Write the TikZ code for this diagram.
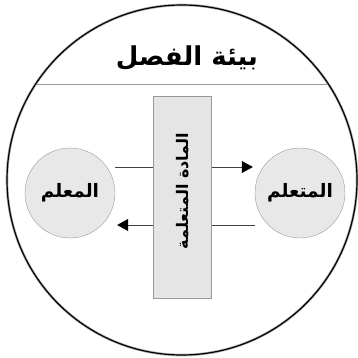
\documentclass[tikz,border=0pt]{standalone}
\usepackage{fontspec}
\usepackage{xcolor}
\usetikzlibrary{arrows.meta,positioning,calc}
\TeXXeTstate=1
\newfontfamily\arabicfont[Script=Arabic]{DejaVu Sans}
\newcommand{\ar}[1]{{\arabicfont\bfseries\beginR #1\endR}}

\begin{document}
\begin{tikzpicture}[x=1pt,y=-1pt,
    actor/.style={circle, draw=gray!80, fill=gray!18, minimum size=90pt, inner sep=0pt, font=\fontsize{18.5}{21}\selectfont},
    material/.style={rectangle, draw=gray!80, fill=gray!20, minimum width=58pt, minimum height=202pt, inner sep=0pt},
    flow/.style={draw=black!75, line width=0.6pt, -{Triangle[length=11pt,width=12pt,color=black]}}]

  \useasboundingbox (0,0) rectangle (357,358);

  % Classroom environment
  \coordinate (centre) at (182,180);
  \begin{scope}
    \clip (centre) circle (175);
    \draw[gray!80, line width=0.7pt] (0,84) -- (357,84);
  \end{scope}
  \draw[gray!60, line width=2.6pt] (centre) circle (175);
  \draw[black, line width=1.2pt] (centre) circle (175);
  \node (env) at (187,58) {\fontsize{26}{29}\selectfont\ar{بيئة الفصل}};

  % Teacher and learner
  \node[actor] (teacher) at (70,193) {\ar{المعلم}};
  \node[actor] (learner) at (300,193) {\ar{المتعلم}};

  % Messages between them
  \draw[flow] ([yshift=26pt]teacher.east) -- ([yshift=26pt,xshift=-2pt]learner.west);
  \draw[flow] ([yshift=-32pt]learner.west) -- ([yshift=-32pt,xshift=2pt]teacher.east);

  % Learning material
  \node[material] (content) at (182,197) {};
  \node[rotate=90, font=\fontsize{16}{18}\selectfont] (contentlabel) at (183,191) {\ar{المادة المتعلمة}};

\end{tikzpicture}
\end{document}
